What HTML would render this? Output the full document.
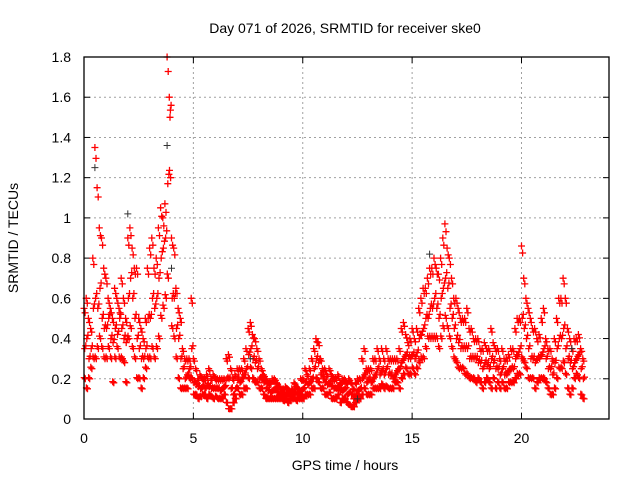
<!DOCTYPE html>
<html><head><meta charset="utf-8"><style>
body{margin:0;background:#fff}
svg{display:block;font-family:"Liberation Sans",sans-serif}
</style></head><body>
<svg id="chart" width="640" height="480" viewBox="0 0 640 480">
<rect width="640" height="480" fill="#fff"/>
<text x="345" y="33" font-size="14" text-anchor="middle" fill="#000">Day 071 of 2026, SRMTID for receiver ske0</text>
<g id="grid"></g>
<g id="ticks"></g>
<g id="pts"></g>
<rect x="84" y="57" width="525" height="362" fill="none" stroke="#000" stroke-width="1.3"/>
<text x="345" y="470" font-size="14" text-anchor="middle">GPS time / hours</text>
<text transform="translate(18,238) rotate(-90)" font-size="14" text-anchor="middle">SRMTID / TECUs</text>
</svg>
<script>
const xTicks=[0,5,10,15,20];
const yTicks=[0,0.2,0.4,0.6,0.8,1,1.2,1.4,1.6,1.8];
const yTickLabels=["0","0.2","0.4","0.6","0.8","1","1.2","1.4","1.6","1.8"];
const timeStep=0.1;
const hiVals=[.55,.6,.5,.45,.8,1.35,1.15,.95,.9,.75,
.7,.6,.55,.5,.65,.6,.55,.7,.6,.5,
.9,.95,.85,.75,.75,.5,.45,.4,.5,.75,
.85,.9,.75,.8,.95,1.05,1.0,1.07,1.8,1.6,
.9,.85,.65,.55,.5,.35,.3,.3,.3,.6,
.3,.25,.2,.22,.2,.2,.22,.25,.2,.22,
.2,.2,.2,.2,.2,.3,.32,.25,.2,.22,
.25,.25,.25,.3,.35,.45,.48,.42,.4,.35,
.3,.25,.22,.2,.18,.18,.2,.2,.18,.16,
.15,.15,.16,.15,.14,.15,.18,.16,.15,.2,
.2,.25,.22,.25,.3,.35,.4,.38,.3,.25,
.25,.22,.25,.22,.2,.2,.22,.18,.2,.2,
.18,.2,.18,.15,.18,.2,.2,.3,.35,.25,
.25,.25,.3,.3,.35,.3,.35,.3,.35,.3,
.3,.3,.3,.3,.35,.45,.48,.42,.38,.4,
.45,.4,.45,.55,.6,.65,.65,.7,.75,.75,
.8,.75,.72,.8,.9,.97,.85,.8,.7,.6,
.6,.55,.5,.5,.5,.55,.45,.45,.4,.4,
.4,.35,.35,.38,.35,.35,.45,.38,.35,.35,
.3,.35,.3,.3,.32,.35,.35,.45,.5,.5,
.86,.7,.6,.55,.5,.45,.45,.4,.42,.5,
.55,.4,.35,.35,.3,.4,.5,.6,.6,.7,
.6,.45,.4,.35,.4,.4,.42,.35,.3];
const midVals=[.35,.4,.3,.35,.55,.6,.55,.65,.5,.45,
.45,.5,.4,.38,.45,.42,.5,.45,.4,.38,
.6,.7,.6,.5,.4,.35,.3,.3,.35,.5,
.5,.6,.55,.6,.7,.8,.85,.9,1.17,1.5,
.6,.6,.45,.4,.3,.25,.2,.22,.25,.35,
.18,.17,.16,.15,.16,.15,.17,.16,.15,.15,
.15,.15,.14,.15,.16,.2,.2,.15,.12,.15,
.2,.18,.2,.22,.25,.32,.35,.3,.28,.25,
.2,.2,.18,.15,.14,.13,.14,.15,.13,.12,
.12,.12,.12,.12,.11,.12,.13,.12,.12,.14,
.15,.18,.17,.18,.2,.25,.3,.28,.22,.2,
.18,.17,.18,.16,.15,.15,.16,.14,.14,.15,
.12,.13,.12,.1,.12,.14,.15,.2,.22,.18,
.2,.18,.2,.22,.25,.22,.24,.22,.25,.22,
.22,.2,.22,.24,.25,.28,.3,.32,.3,.3,
.32,.3,.33,.4,.42,.45,.5,.5,.55,.55,
.6,.55,.5,.6,.65,.7,.65,.55,.5,.45,
.4,.38,.35,.35,.35,.35,.3,.3,.3,.3,
.28,.28,.25,.28,.27,.25,.3,.28,.25,.25,
.22,.25,.22,.22,.24,.25,.25,.3,.32,.35,
.5,.45,.4,.35,.3,.3,.28,.3,.3,.32,
.35,.3,.25,.25,.22,.28,.35,.4,.4,.45,
.35,.3,.28,.25,.28,.3,.32,.25,.2];
const loVals=[.2,.15,.2,.25,.3,.3,.35,.4,.35,.3,
.3,.35,.3,.18,.3,.35,.3,.3,.28,.18,
.4,.45,.35,.3,.2,.2,.15,.2,.25,.3,
.3,.35,.3,.35,.4,.5,.55,.6,.7,1.2,
.45,.4,.3,.2,.15,.15,.15,.15,.2,.2,
.12,.12,.1,.11,.12,.12,.1,.12,.11,.1,
.11,.1,.1,.1,.12,.08,.05,.05,.08,.1,
.15,.12,.12,.15,.15,.2,.25,.2,.18,.18,
.15,.15,.12,.1,.1,.1,.1,.1,.1,.1,
.1,.09,.1,.08,.09,.1,.1,.09,.1,.1,
.1,.12,.12,.12,.15,.15,.2,.18,.15,.15,
.12,.12,.13,.1,.1,.1,.12,.08,.1,.1,
.08,.07,.06,.06,.08,.1,.1,.12,.15,.12,
.12,.12,.15,.15,.15,.15,.17,.15,.16,.15,
.15,.15,.18,.18,.15,.2,.22,.25,.22,.22,
.25,.22,.25,.28,.3,.3,.35,.4,.4,.4,
.4,.4,.35,.4,.45,.5,.45,.4,.35,.3,
.28,.25,.25,.25,.22,.22,.2,.2,.2,.18,
.2,.18,.15,.18,.2,.18,.15,.2,.15,.18,
.15,.18,.15,.15,.18,.18,.18,.2,.22,.22,
.3,.28,.25,.2,.2,.2,.15,.18,.2,.2,
.2,.18,.15,.12,.12,.15,.2,.25,.25,.28,
.22,.15,.12,.15,.2,.22,.2,.12,.1];
const darkTimes=[0.5,2.0,3.8,15.8,4.0,22.3,7.6,12.5];
const darkVals=[1.25,1.02,1.36,0.82,0.75,0.35,0.3,0.1];

const X0=84,X1=609,Y0=419,Y1=57,XMAX=24,YMAX=1.8;
const xs=v=>X0+(X1-X0)*v/XMAX;
const ys=v=>Y0-(Y0-Y1)*v/YMAX;
const NS="http://www.w3.org/2000/svg";
const grid=document.getElementById('grid'),ticks=document.getElementById('ticks'),pts=document.getElementById('pts');
function line(p,x1,y1,x2,y2,st,dash,w){const l=document.createElementNS(NS,'line');l.setAttribute('x1',x1);l.setAttribute('y1',y1);l.setAttribute('x2',x2);l.setAttribute('y2',y2);l.setAttribute('stroke',st);l.setAttribute('stroke-width',w||1);if(dash)l.setAttribute('stroke-dasharray',dash);p.appendChild(l);return l;}
function txt(p,x,y,s,anchor){const t=document.createElementNS(NS,'text');t.setAttribute('x',x);t.setAttribute('y',y);t.setAttribute('font-size','14');t.setAttribute('text-anchor',anchor);t.textContent=s;p.appendChild(t);return t;}
yTicks.forEach((v,i)=>{const y=ys(v);
 if(v>0&&v<YMAX){const g=line(grid,X0,y,X1,y,'#a0a0a0','2,3');
 
 }
 line(ticks,X0,y,X0+6,y,'#000');line(ticks,X1-6,y,X1,y,'#000');
 const t=txt(ticks,X0-13,y+5,yTickLabels[i],'end');
 
 
});
xTicks.forEach(v=>{const x=xs(v);
 if(v>0){const g=line(grid,x,Y1,x,Y0,'#a0a0a0','2,3');
 
 }
 line(ticks,x,Y0,x,Y0-6,'#000');line(ticks,x,Y1,x,Y1+6,'#000');
 const t=txt(ticks,x,Y0+24,String(v),'middle');
 
 
});
let d='';
function plus(x,y){return `M${(x-3.5).toFixed(1)} ${y.toFixed(1)}h7M${x.toFixed(1)} ${(y-3.5).toFixed(1)}v7`;}
[[hiVals,0,0],[midVals,0.03,0],[loVals,0.06,0],[hiVals,0.05,-0.04],[midVals,0.08,0.04],[loVals,0.01,0.03]].forEach(([arr,off,dv])=>{
 arr.forEach((v,i)=>{d+=plus(xs(i*timeStep+off),ys(Math.max(0.03,v+dv*v)));});
});
const red=document.createElementNS(NS,'path');red.setAttribute('d',d);red.setAttribute('stroke','#ff0000');red.setAttribute('stroke-width','1.3');red.setAttribute('fill','none');


pts.appendChild(red);
let d2='';darkTimes.forEach((t,i)=>{d2+=plus(xs(t),ys(darkVals[i]));});
const dk=document.createElementNS(NS,'path');dk.setAttribute('d',d2);dk.setAttribute('stroke','#333');dk.setAttribute('stroke-width','1');dk.setAttribute('fill','none');


pts.appendChild(dk);
</script>
</body></html>
